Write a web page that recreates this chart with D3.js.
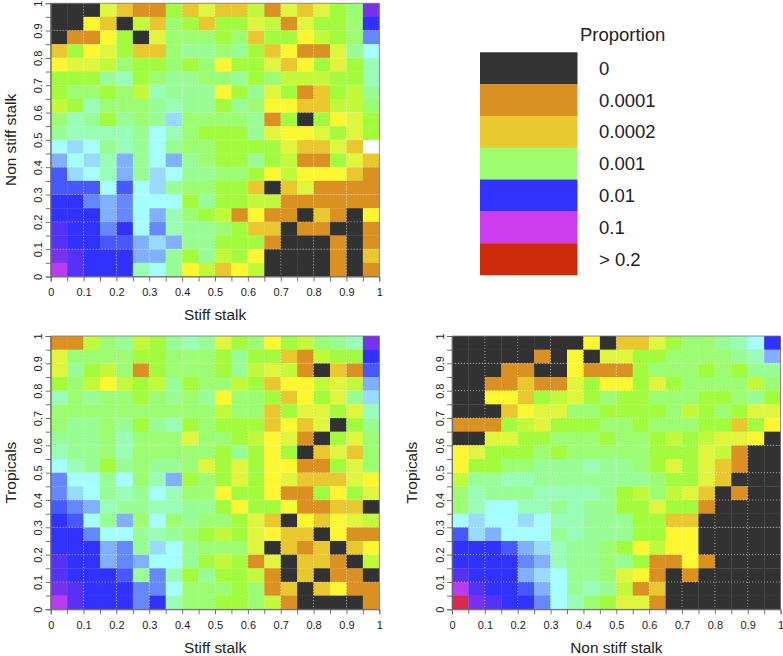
<!DOCTYPE html>
<html><head><meta charset="utf-8">
<script src="https://cdn.jsdelivr.net/npm/d3@7"></script>
<style>
html,body{margin:0;padding:0;background:#fff}
svg{display:block}
text{font-family:"Liberation Sans",Arial,sans-serif;fill:#222}
</style></head><body>
<svg id="c" width="783" height="656"></svg>
<script>
// each letter is one cell's proportion level, rows run top (y=1) to bottom (y=0)
const levelCodes  = ["k","o","g","y","l","m","a","b","c","d","e","f","h","i","j","n","p","q","r","s"];
const levelValues = [0,0.0001,0.0002,0.0003,0.0004,0.0005,0.0006,0.001,0.0015,0.002,0.003,0.004,0.005,0.006,0.008,0.01,0.03,0.05,0.1,0.25];
const levelColors = ["#333333","#DA9124","#E9C72F","#FDF733","#E0F53C","#C2F93A","#A2FB3D","#9DFD72","#99FD95","#99FDB8","#A5FDFD","#99DBFF","#80B0FF","#6688FF","#4759FF","#3333FF","#5530F5","#7733EE","#BB3BF0","#D92B4B"];

const legendLabels = ["0","0.0001","0.0002","0.001","0.01","0.1","> 0.2"];
const legendColors = ["#333333","#DA9124","#E9C72F","#9DFD6E","#3333FF","#CE3DEE","#CC2A08"];
const binEdges = d3.range(0,20);
const tickValues = d3.range(0,21).map(i=>i/20);

const stiffVsNonStiff = [
"kkklgooagl ggmolglabq",
"kkygkmgbag aalmolaabn",
"kooyaklbbb abgaaymabi",
"gaylaggbcc bcagyoolce",
"yllmbaabab yaalgyalad",
"aaacdabccb bcabmmmaad",
"abbabmdccc yaclaogamc",
"madbbbcdcc acbyyggmmb",
"bdcacbcfbb bbcoakayla",
"cddddcedba aaclyylala",
"efecdcecbb aaaalgggla".slice(0,17)+"glg",
"hefdhcehcb aacamooalg",
"jfedhcfecc bbaymyyygo",
"jjjejefcbb aagkgloooo",
"nnihieeeac aammoooooo",
"nnnhiehdba moyookgoky",
"pnninei dcc bagg kookko",
"pnnjjhfhcc aaaokkkoko",
"qpnnnhhcac mayk kkkokg",
"rpnnndecym gymkkkkoko"
];
const stiffVsTropicals = [
"oombcmacdc labyambcdq",
"lbbbbaabbb acaagomaan",
"lcamboabbb acmlmokgoj",
"abmymamcab bmagyymlmh",
"dbcbbabcbc ybbagyalcf",
"bbbbbbbbbb mbbgallald",
"bccbcacdab aaagyglkac",
"cccbdbbblb bamylokalb",
"dccbdbbbbb acayakglgb",
"edcacbccbl alayyooalb",
"iecebdhab".slice(0,1)+"eeceb dhab alaylggg ly",
"ifecdcedbb yaayooayal",
"jihdccddcc ayaayooggk",
"njechbebcb balgkygylm",
"nnieecdcba malyggkyoo",
"nnnhicfecb bblkgogkgy",
"pnnhiheeca maolkggokm",
"pnnnjcidac aamokgkook",
"qpnnniiebb babogkgyoo",
"rpnnnindbb aabmokkkko"
];
const nonStiffVsTropicals = [
"kkkkkkkkyk gglabbcden",
"kkkkkokykl laabbbbcdh",
"kkkookkyoo oabbbabacc",
"kkoogoolay yalabbbbmb",
"kkyygamlab aabbbaabca",
"kkkgyllbba aaabmaball",
"oooamlaaab babbbaagay",
"kkllaabbba bbamamllyk",
"ylaaababbb bbaaalmokk",
"yaabbcccdc cbalalgokk",
"mccddccccc ccbaalgkkk",
"bdcccddddc ambmlgkokk",
"bdeeddcdcc aalaaokkkk",
"efeefeddcc caaggkkkkk",
"jfheeecdcc caayykkkkk",
"nnnjhfdccb aymyykkkkk",
"nnnnihdccb caooyokkkk",
"pnnnhfeccb lyokokkkkk",
"rpnnjhecdc mogkkkkkkk",
"sqpnniedba llokkkkkkk"
];

const panels = [
 {rows:stiffVsNonStiff,    xLabel:"Stiff stalk",     yLabel:"Non stiff stalk", left:50.7, top:3.2,  titleX:11},
 {rows:stiffVsTropicals,   xLabel:"Stiff stalk",     yLabel:"Tropicals",       left:50.7, top:336, titleX:11},
 {rows:nonStiffVsTropicals,xLabel:"Non stiff stalk", yLabel:"Tropicals",       left:452,  top:336, titleX:412}
];
const W = 328.6, H = 273.3;
const colour = d3.scaleOrdinal(levelValues, levelColors);
const codeToValue = new Map(levelCodes.map((c,i)=>[c,levelValues[i]]));
const svg = d3.select("#c");
const defs = svg.append("defs");
defs.append("filter").attr("id","soft").attr("x","-2%").attr("y","-2%").attr("width","104%").attr("height","104%")
  .append("feGaussianBlur").attr("stdDeviation",0.5);

const fmt = v => { const t=Math.round(v*20); return t%2 ? "" : (t%20===0 ? String(t/20) : (t/20).toFixed(1)); };

panels.forEach(p=>{
  const x = d3.scaleLinear([0,1],[0,W]);
  const y = d3.scaleLinear([0,1],[H,0]);
  const g = svg.append("g").attr("transform",`translate(${p.left},${p.top})`);
  const cells = p.rows.flatMap((row,r)=>Array.from(row.replace(/ /g,"")).map((ch,c)=>({
    x0:binEdges[c]/20, y0:binEdges[19-r]/20, v:codeToValue.get(ch)})));
  g.append("g").attr("filter","url(#soft)").selectAll("rect").data(cells).join("rect")
    .attr("x",d=>x(d.x0)).attr("y",d=>y(d.y0+0.05))
    .attr("width",x(0.05)-x(0)+0.3).attr("height",y(0)-y(0.05)+0.3)
    .attr("fill",d=>colour(d.v));
  // dotted grid
  const gridVals = tickValues.filter((v,i)=>i%2===0 && i>0 && i<20);
  const dot = {stroke:"#fff","stroke-width":0.8,"stroke-dasharray":"1 2",opacity:0.65};
  const gv = g.append("g").selectAll("line").data(gridVals).join("line")
    .attr("x1",d=>x(d)).attr("x2",d=>x(d)).attr("y1",0).attr("y2",H);
  const gh = g.append("g").selectAll("line").data(gridVals).join("line")
    .attr("y1",d=>y(d)).attr("y2",d=>y(d)).attr("x1",0).attr("x2",W);
  [gv,gh].forEach(s=>Object.entries(dot).forEach(([k,v])=>s.attr(k,v)));
  g.append("rect").attr("width",W).attr("height",H).attr("fill","none").attr("stroke","#777").attr("stroke-width",0.8);

  const ax = g.append("g").attr("transform",`translate(0,${H})`)
    .call(d3.axisBottom(x).tickValues(tickValues).tickFormat(fmt).tickSize(5).tickPadding(7));
  const ay = g.append("g")
    .call(d3.axisLeft(y).tickValues(tickValues).tickFormat(fmt).tickSize(5).tickPadding(7));
  [ax,ay].forEach(a=>{
    a.selectAll("path,line").attr("stroke","#666").attr("stroke-width",0.9);
    a.selectAll("text").style("font-size","11px").style("font-family",'"Liberation Sans",Arial,sans-serif').attr("fill","#222");
  });
  ay.selectAll("text").attr("transform",function(){
      const yy=this.parentNode.getAttribute("transform");
      return "rotate(-90 -12 0)";
    }).attr("x",-12).attr("dy","0.32em").attr("text-anchor","middle");

  g.append("text").attr("x",W/2).attr("y",H+44).attr("text-anchor","middle").style("font-size","15.4px").text(p.xLabel);
  g.append("text").attr("transform",`translate(${p.titleX+5-p.left},${H/2}) rotate(-90)`).attr("text-anchor","middle").style("font-size","15.4px").text(p.yLabel);
});

// legend
const lg = svg.append("g").attr("transform","translate(480,52.3)");
const ly = d3.scaleBand(legendLabels,[0,222.7]);
lg.selectAll("rect").data(legendLabels).join("rect")
  .attr("x",0).attr("y",d=>ly(d)).attr("width",97.5).attr("height",ly.bandwidth()+0.3)
  .attr("fill",(d,i)=>legendColors[i]);
lg.selectAll("text.l").data(legendLabels).join("text").attr("class","l")
  .attr("x",119).attr("y",d=>ly(d)+ly.bandwidth()/2).attr("dy","0.36em").style("font-size","18.5px").text(d=>d);
lg.append("text").attr("x",100).attr("y",-11).style("font-size","18.5px").text("Proportion");
</script>
</body></html>
